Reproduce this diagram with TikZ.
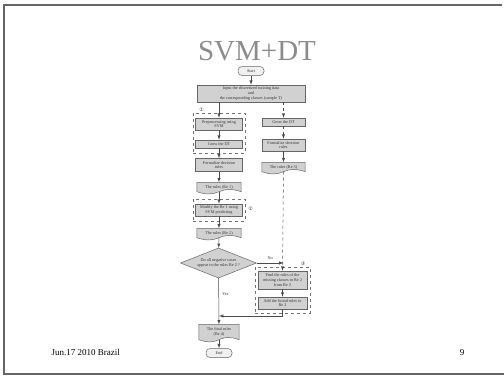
\documentclass[tikz,border=0pt]{standalone}
\usepackage{fontspec}
\setmainfont{Liberation Serif}
\newfontfamily\circfont{DejaVu Sans}
\usetikzlibrary{shapes.geometric,calc,fit,backgrounds}

\newcommand{\docwave}[1]{%
  \path[draw=black!60,fill=black!18,line width=0.5pt] (#1.north west) -- (#1.north east) -- (#1.south east)
    .. controls ($(#1.south east)+(-9,-3)$) and ($(#1.south)+(7,-3)$) .. (#1.south)
    .. controls ($(#1.south)+(-7,3)$) and ($(#1.south west)+(9,3)$) .. (#1.south west) -- cycle;}

\begin{document}
\begin{tikzpicture}[x=1pt,y=-1pt,>=latex,
          every node/.style={font=\fontsize{4.2}{4.6}\selectfont,text=black!80},
          box/.style={draw=black!60,fill=black!18,line width=0.5pt,minimum width=47pt,align=center,inner sep=0.8pt},
          doc/.style={minimum width=44pt,minimum height=9pt,align=center,inner sep=0.8pt},
          term/.style={draw=black!60,fill=black!6,line width=0.5pt,rounded corners=4pt,minimum width=26pt,minimum height=9pt,inner sep=0.5pt},
          test/.style={diamond,aspect=2.5,draw=black!60,fill=black!18,line width=0.5pt,minimum width=76pt,minimum height=30pt,inner sep=0pt,align=center},
          group/.style={draw=black!55,dashed,line width=0.5pt,inner xsep=2.5pt,inner ysep=4.5pt},
          link/.style={->,black!70,line width=0.5pt}]
  \useasboundingbox (0,0) rectangle (504,380);
  \draw[black!60,line width=1.2pt] (502,5) -- (4,5) -- (4,374) -- (504,374);

  \node[font=\fontsize{29}{29}\selectfont,text=black!45] (Title) at (257,51) {SVM+DT};

  \node[term] (Start) at (251,71) {Start};
  \node[box,minimum width=108pt,minimum height=17pt] (Input) at (251,93.5)
    {Input the discretized training data\\and\\the corresponding classes (sample T)};

  \node[box,minimum height=12pt] (Pre) at (219,124) {Preprocessing using\\SVM};
  \node[box,minimum height=8pt] (GrowL) at (219,144) {Grow the DT};
  \node[box,minimum height=13pt] (FormL) at (219,165) {Formalize decision\\rules};
  \node[doc] (ReOne) at (219,187) {The rules (Re 1)};
  \node[box,minimum height=12pt] (Modify) at (219,210) {Modify the Re 1 using\\SVM predicting};
  \node[doc] (ReTwo) at (219,233) {The rules (Re 2)};
  \node[test] (Test) at (218.5,263) {Do all negative cases\\appear in the rules Re 2 ?};
  \node[doc,minimum width=40pt,minimum height=15pt] (Final) at (219,332) {The final rules\\(Re 4)};
  \node[term] (End) at (219,353) {End};

  \node[box,minimum width=43pt,minimum height=8pt] (GrowR) at (283.5,122) {Grow the DT};
  \node[box,minimum width=43pt,minimum height=12pt] (FormR) at (283.5,145) {Formalize decision\\rules};
  \node[doc,minimum width=43pt] (ReThree) at (283.5,167) {The rules (Re 3)};
  \node[box,minimum width=49pt,minimum height=18pt] (Find) at (282.5,280)
    {Find the rules of the\\missing classes in Re 2\\from Re 3};
  \node[box,minimum width=49pt,minimum height=12pt] (Add) at (282.5,303) {Add the found rules to\\Re 2};

  \begin{scope}[on background layer]
    \docwave{ReOne}
    \docwave{ReTwo}
    \docwave{ReThree}
    \docwave{Final}
  \end{scope}

  \node[group,fit=(Pre)(GrowL)] (GroupOne) {};
  \node[group,fit=(Modify)] (GroupTwo) {};
  \node[group,fit=(Find)(Add),inner ysep=4pt] (GroupThree) {};
  \node[font=\circfont\fontsize{5}{5}\selectfont] (MarkOne) at ($(GroupOne.north west)+(9,-3)$) {①};
  \node[font=\circfont\fontsize{5}{5}\selectfont] (MarkTwo) at ($(GroupTwo.east)+(5,-1)$) {②};
  \node[font=\circfont\fontsize{5}{5}\selectfont] (MarkThree) at ($(GroupThree.north east)+(-7,-3)$) {③};

  \coordinate (Join) at (219,316);
  \draw[link] (Start) -- (Input);
  \draw[link] (Input.south -| Pre.north) -- (Pre.north);
  \draw[link] (Pre) -- (GrowL);
  \draw[link] (GrowL) -- (FormL);
  \draw[link] (FormL) -- (ReOne);
  \draw[link] (ReOne) -- (Modify);
  \draw[link] (Modify) -- (ReTwo);
  \draw[link] (ReTwo) -- (Test);
  \draw[link] (Test) -- node[pos=0.35,right] {Yes} (Final);
  \draw[link] (Final) -- (End);
  \draw[link,dashed] (Input.south -| GrowR.north) -- (GrowR.north);
  \draw[link,dashed] (GrowR) -- (FormR);
  \draw[link] (FormR) -- (ReThree);
  \draw[link,dashed] (ReThree.south) -- (Find.north);
  \draw[link] (Test.east) -- node[pos=0.5,above] {No} (Test.east -| ReThree);
  \draw[link] (Find) -- (Add);
  \draw[link] (Add.south) |- (Join);

  \node[font=\fontsize{9}{10}\selectfont,anchor=west,text=black] (Date) at (48,352) {Jun.17 2010 Brazil};
  \node[font=\fontsize{9}{10}\selectfont,text=black] (Page) at (462,353) {9};
\end{tikzpicture}
\end{document}
